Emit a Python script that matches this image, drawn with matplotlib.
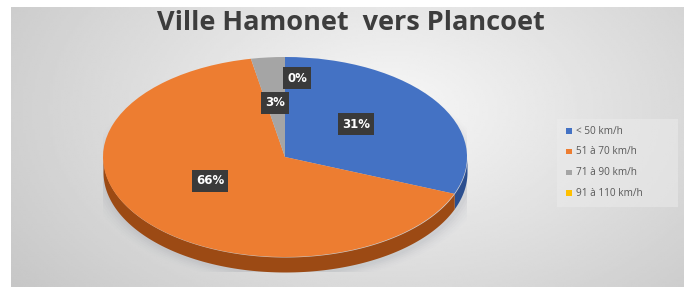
import matplotlib

matplotlib.use("Agg")
import matplotlib.pyplot as plt
import numpy as np
from matplotlib.patches import Rectangle

TITLE = "Ville Hamonet  vers Plancoet"
CATEGORIES = ["< 50 km/h", "51 à 70 km/h", "71 à 90 km/h", "91 à 110 km/h"]
SHARES = [31, 66, 3, 0]
LABELS = ["31%", "66%", "3%", "0%"]
COLORS = ["#4472C4", "#ED7D31", "#A5A5A5", "#FFC000"]
SIDE_COLORS = ["#2c4f8f", "#9c4a14", "#707070", "#b08500"]

W, H = 684, 287
fig = plt.figure(figsize=(W / 100, H / 100), dpi=100)
fig.patch.set_facecolor("white")

# background axes in pixel coordinates
bg = fig.add_axes([0, 0, 1, 1], zorder=0)
bg.set_xlim(0, W)
bg.set_ylim(H, 0)
bg.axis("off")

# radial grey gradient in the chart area
x0, y0 = 11, 7
gx, gy = np.meshgrid(np.linspace(x0, W, 300), np.linspace(y0, H, 150))
r = np.hypot((gx - 390) / 420, (gy - 110) / 260)
shade = np.clip(0.97 - 0.17 * r, 0.78, 0.97)
bg.imshow(shade, cmap="gray", vmin=0, vmax=1, extent=(x0, W, H, y0),
          aspect="auto", interpolation="bilinear", zorder=0)

# pie axes: top surface ellipse 103..467 x 57..257 px, depth 15 px
depth = 0.15
px_l, px_r, px_t, px_b = 103, 467, 57, 257 + 15
pie_ax = fig.add_axes([px_l / W, 1 - px_b / H, (px_r - px_l) / W, (px_b - px_t) / H],
                      zorder=1)
pie_ax.axis("off")

# soft shadow under the pie
for k, a in enumerate(np.linspace(0.05, 0.012, 6)):
    t = np.linspace(0, 2 * np.pi, 200)
    s = 1.0 + 0.015 * (k + 1)
    pie_ax.fill(0.01 + s * np.cos(t), -depth - 0.02 + s * np.sin(t),
                color="#7a8090", alpha=a, lw=0, zorder=0)

# side wall: slices run clockwise from 12 o'clock
fracs = np.array(SHARES, dtype=float) / sum(SHARES)
start = 90.0
for frac, sc in zip(fracs, SIDE_COLORS):
    end = start - 360 * frac
    if frac > 0:
        t = np.radians(np.linspace(end, start, 200))
        vis = np.sin(t) <= 0
        if vis.any():
            tt = t[vis]
            pie_ax.fill_between(np.cos(tt), np.sin(tt) - depth, np.sin(tt),
                                color=sc, lw=0, zorder=1)
    start = end

wedges, _ = pie_ax.pie(SHARES, colors=COLORS, startangle=90, counterclock=False,
                       radius=1, wedgeprops=dict(linewidth=0), frame=False)
for w in wedges:
    w.set_zorder(2)
pie_ax.set_aspect("auto")
pie_ax.set_xlim(-1, 1)
pie_ax.set_ylim(-1 - depth, 1)

# overlay axes for title, labels and legend
top = fig.add_axes([0, 0, 1, 1], zorder=2)
top.set_xlim(0, W)
top.set_ylim(H, 0)
top.axis("off")
top.patch.set_alpha(0)

top.text(351, 23, TITLE, ha="center", va="center", fontsize=19.5,
         fontweight="bold", color="#3d3d3d", family="Open Sans")

# data labels (pixel positions of the boxes)
label_pos = {"31%": (356, 124), "66%": (210, 181), "3%": (275, 103), "0%": (297, 78)}
for lab in LABELS:
    x, y = label_pos[lab]
    top.text(x, y, lab, ha="center", va="center", fontsize=8.5, fontweight="bold",
             color="white", family="DejaVu Sans",
             bbox=dict(boxstyle="square,pad=0.35", fc="#3a3a3a", ec="none"))

# legend
top.add_patch(Rectangle((557, 119), 121, 88, fc="#ececec", ec="none", alpha=0.5))
for i, (cat, col) in enumerate(zip(CATEGORIES, COLORS)):
    yy = 131 + i * 20.7
    top.add_patch(Rectangle((566, yy - 2.8), 6, 5.6, fc=col, ec="none"))
    top.text(576, yy, cat, ha="left", va="center", fontsize=7.2, color="#595959",
             family="Open Sans")

fig.savefig("out.png", dpi=100)
